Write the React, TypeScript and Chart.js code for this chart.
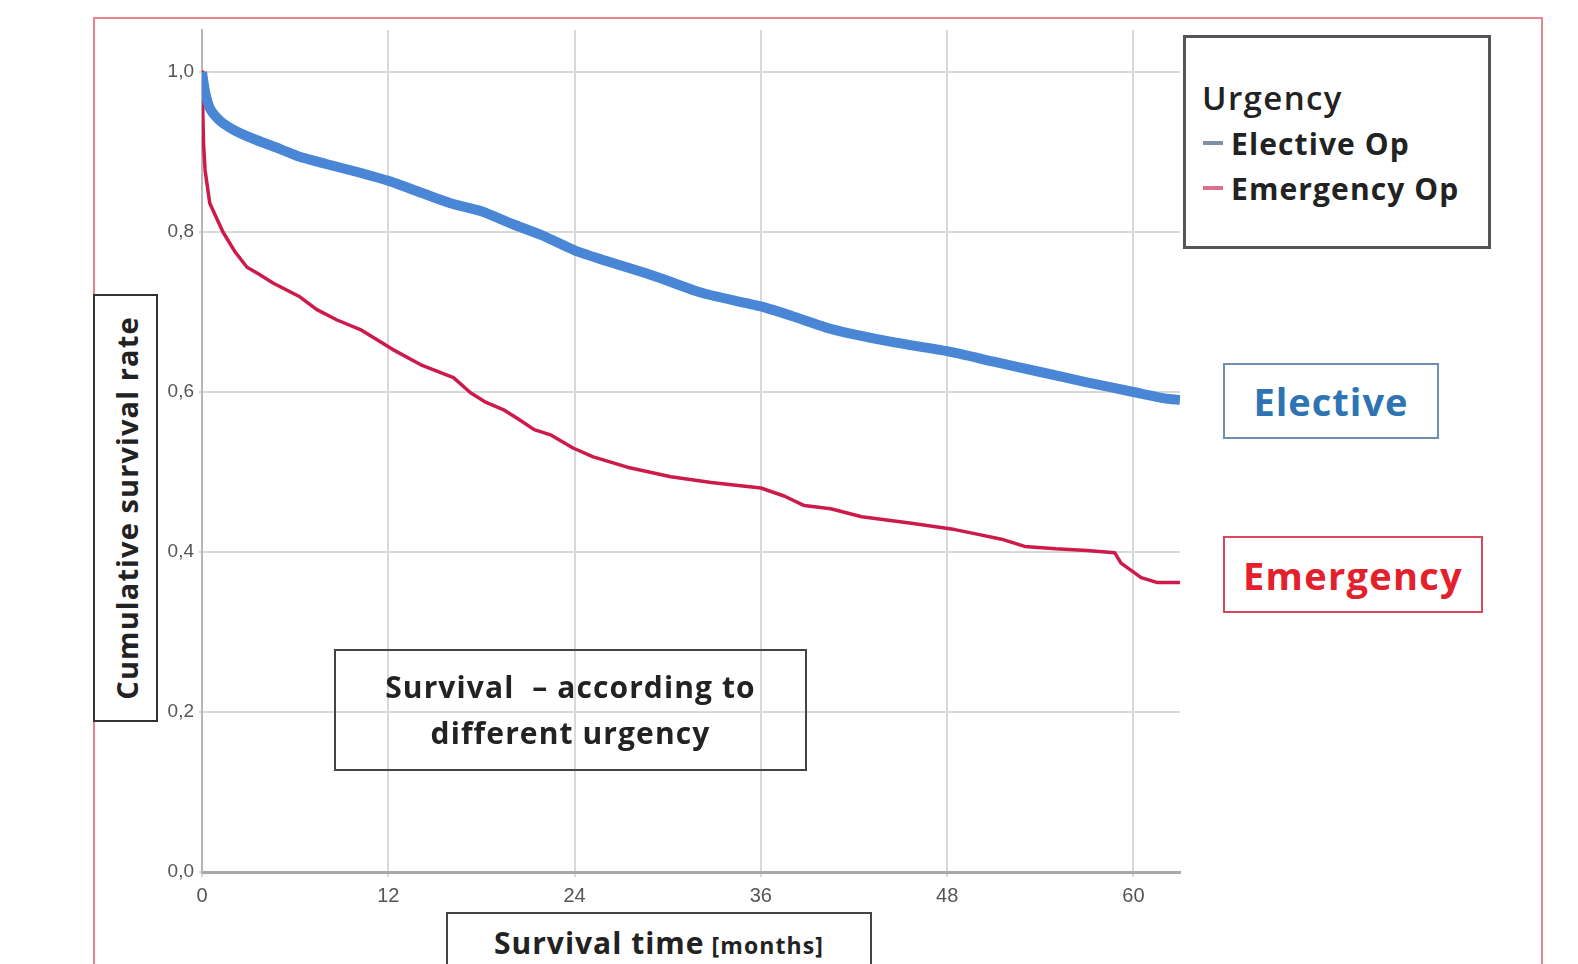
import React, { useEffect, useRef } from "react";
import { Chart, registerables } from "chart.js";

Chart.register(...registerables);

// ---- data ----
const electiveMonths = [0, 0.2, 0.5, 0.9, 1.35, 2.2, 3.5, 5, 6.3, 8, 10, 12, 14, 16, 18, 20, 22, 24, 26, 28.5, 30, 31.7, 33, 36, 38, 40.3, 42, 44.6, 48, 51, 54, 57, 60, 62, 63];
const electiveSurvival = [1.0, 0.975, 0.955, 0.944, 0.936, 0.926, 0.915, 0.904, 0.894, 0.885, 0.875, 0.864, 0.85, 0.836, 0.826, 0.81, 0.795, 0.777, 0.764, 0.749, 0.739, 0.727, 0.72, 0.707, 0.695, 0.68, 0.672, 0.662, 0.651, 0.638, 0.625, 0.612, 0.6, 0.592, 0.59];

const emergencyMonths = [0, 0.05, 0.1, 0.2, 0.5, 1.35, 2.1, 2.9, 3.6, 4.6, 6.3, 7.4, 8.7, 10.2, 12.3, 14.1, 16.2, 17.3, 18.3, 19.4, 20.4, 21.4, 22.5, 23.9, 25.2, 27.4, 30.2, 32.8, 36, 37.5, 38.8, 40.5, 42.5, 45.7, 48.5, 50, 51.5, 53, 55, 57, 58.8, 59.2, 60.5, 61.5, 63];
const emergencySurvival = [1.0, 0.95, 0.91, 0.877, 0.836, 0.8, 0.776, 0.756, 0.748, 0.736, 0.719, 0.703, 0.69, 0.678, 0.653, 0.634, 0.618, 0.599, 0.587, 0.578, 0.566, 0.553, 0.546, 0.53, 0.519, 0.506, 0.494, 0.487, 0.48, 0.47, 0.458, 0.454, 0.444, 0.436, 0.428, 0.422, 0.416, 0.407, 0.404, 0.402, 0.399, 0.386, 0.368, 0.362, 0.362];

const xTickValues = [0, 12, 24, 36, 48, 60];
const yTickValues = [0, 0.2, 0.4, 0.6, 0.8, 1.0];
const seriesLabels = ["Elective Op", "Emergency Op"];
const legendTitle = "Urgency";
const yTitle = "Cumulative survival rate";
const xTitleMain = "Survival time";
const xTitleUnit = "[months]";
const chartTitleLines = ["Survival  \u2013 according to", "different urgency"];
const groupLabels = ["Elective", "Emergency"];

const BLUE = "#4a86d6";
const RED = "#cc1a4b";
const FONT = "'Open Sans', Lato, sans-serif";
const TICK_FONT = "'Liberation Sans', Arial, sans-serif";

export default function App() {
  const canvasRef = useRef<HTMLCanvasElement | null>(null);

  useEffect(() => {
    if (!canvasRef.current) return;
    const chart = new Chart(canvasRef.current, {
      type: "line",
      data: {
        datasets: [
          {
            label: seriesLabels[0],
            data: electiveMonths.map((m, i) => ({ x: m, y: electiveSurvival[i] })),
            borderColor: BLUE,
            borderWidth: 10,
            pointRadius: 0,
            tension: 0.2,
            borderJoinStyle: "round",
            borderCapStyle: "butt",
          },
          {
            label: seriesLabels[1],
            data: emergencyMonths.map((m, i) => ({ x: m, y: emergencySurvival[i] })),
            borderColor: RED,
            borderWidth: 3.5,
            pointRadius: 0,
            tension: 0,
            borderJoinStyle: "round",
          },
        ],
      },
      options: {
        responsive: false,
        animation: false,
        devicePixelRatio: 1,
        layout: { padding: { left: 152, top: 30, right: 398, bottom: 52 } },
        plugins: { legend: { display: false }, tooltip: { enabled: false } },
        scales: {
          x: {
            type: "linear",
            min: 0,
            max: 63,
            afterBuildTicks: (scale: any) => {
              scale.ticks = xTickValues.map((v) => ({ value: v }));
            },
            afterFit: (scale: any) => {
              scale.height = 40;
            },
            grid: { color: "#d9d9d9", lineWidth: 2, tickLength: 5 },
            border: { color: "#a8a8a8", width: 3 },
            ticks: {
              padding: 7,
              color: "#555",
              font: { family: TICK_FONT, size: 20 },
              maxRotation: 0,
              callback: (v: any) => String(v),
            },
          },
          y: {
            type: "linear",
            min: 0,
            max: 1.0525,
            afterBuildTicks: (scale: any) => {
              scale.ticks = yTickValues.map((v) => ({ value: v }));
            },
            afterFit: (scale: any) => {
              scale.width = 50;
            },
            grid: { color: "#d9d9d9", lineWidth: 2, tickLength: 3 },
            border: { color: "#b5b5b5", width: 2 },
            ticks: {
              padding: 5,
              color: "#555",
              font: { family: TICK_FONT, size: 19 },
              callback: (v: any) => Number(v).toFixed(1).replace(".", ","),
            },
          },
        },
      },
    } as any);
    return () => chart.destroy();
  }, []);

  const abs = (l: number, t: number, w: number, h: number, extra: any = {}) => ({
    position: "absolute" as const,
    left: l,
    top: t,
    width: w,
    height: h,
    boxSizing: "border-box" as const,
    ...extra,
  });

  return (
    <div style={{ position: "absolute", left: 0, top: 0, width: 1578, height: 964, overflow: "hidden", background: "#fff", fontFamily: FONT }}>
      <canvas ref={canvasRef} width={1578} height={964} style={{ position: "absolute", left: 0, top: 0, width: 1578, height: 964 }} />

      {/* outer frame */}
      <div style={abs(93, 17, 1450, 1000, { border: "2px solid #e8858f", pointerEvents: "none" })} />

      {/* y-axis title box */}
      <div style={abs(93, 294, 65, 428, { border: "2px solid #333", background: "#fff" })}>
        <div
          style={{
            position: "absolute",
            left: "50%",
            top: "50%",
            transform: "translate(-50%, -50%) rotate(-90deg)",
            whiteSpace: "nowrap",
            fontSize: 29,
            fontWeight: 700,
            letterSpacing: 1.1,
            color: "#222",
          }}
        >
          {yTitle}
        </div>
      </div>

      {/* chart title box */}
      <div
        style={abs(334, 649, 473, 122, {
          border: "2px solid #444",
          display: "flex",
          flexDirection: "column",
          justifyContent: "center",
          alignItems: "center",
          fontSize: 30,
          fontWeight: 700,
          letterSpacing: 1.1,
          color: "#222",
          lineHeight: "46px",
          whiteSpace: "pre",
        })}
      >
        {chartTitleLines.map((t) => (
          <div key={t}>{t}</div>
        ))}
      </div>

      {/* x-axis title box */}
      <div
        style={abs(446, 912, 426, 80, {
          border: "2px solid #444",
          background: "#fff",
          display: "flex",
          justifyContent: "center",
          alignItems: "baseline",
          paddingTop: 8,
          color: "#222",
          fontWeight: 700,
          whiteSpace: "nowrap",
        })}
      >
        <span style={{ fontSize: 30, letterSpacing: 1.0 }}>{xTitleMain}</span>
        <span style={{ fontSize: 23, marginLeft: 7, letterSpacing: 1.1 }}>{xTitleUnit}</span>
      </div>

      {/* legend */}
      <div style={abs(1183, 35, 308, 214, { border: "3px solid #555", background: "#fff", color: "#222" })}>
        <div style={{ position: "absolute", left: 16, top: 40, fontSize: 33, fontWeight: 600, letterSpacing: 1.4, lineHeight: "40px" }}>{legendTitle}</div>
        {seriesLabels.map((s, i) => (
          <div key={s} style={{ position: "absolute", left: 17, top: 85 + i * 45, height: 40, display: "flex", alignItems: "center", whiteSpace: "nowrap" }}>
            <span style={{ display: "inline-block", width: 20, height: 4, background: i === 0 ? "#7f90a6" : "#d9708e", marginRight: 8 }} />
            <span style={{ fontSize: 30, fontWeight: 700, letterSpacing: 1.1 }}>{s}</span>
          </div>
        ))}
      </div>

      {/* group labels */}
      <div
        style={abs(1223, 363, 216, 76, {
          border: "2px solid #6f8fae",
          background: "#fff",
          display: "flex",
          justifyContent: "center",
          alignItems: "center",
          color: "#2e74b5",
          fontSize: 38,
          fontWeight: 700,
          letterSpacing: 1,
        })}
      >
        {groupLabels[0]}
      </div>
      <div
        style={abs(1223, 536, 260, 77, {
          border: "2px solid #d9475a",
          background: "#fff",
          display: "flex",
          justifyContent: "center",
          alignItems: "center",
          color: "#e3202b",
          fontSize: 38,
          fontWeight: 700,
          letterSpacing: 1.3,
        })}
      >
        {groupLabels[1]}
      </div>
    </div>
  );
}
